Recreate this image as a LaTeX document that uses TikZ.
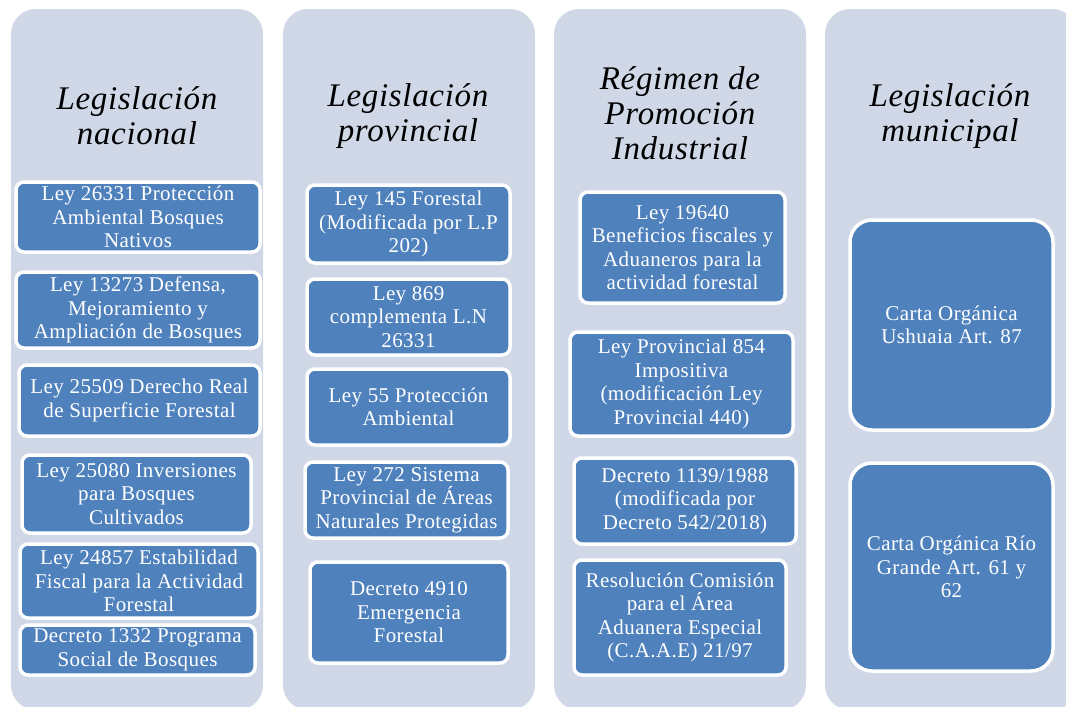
\documentclass[tikz,border=0pt]{standalone}
\usepackage{fontspec}
\setmainfont{Liberation Serif}
\newfontfamily\lawfont[LetterSpace=2]{Liberation Serif}
\newfontfamily\headfont[LetterSpace=2]{Liberation Serif}
\usetikzlibrary{positioning}

\definecolor{panelbg}{RGB}{208,216,232}
\definecolor{lawblue}{RGB}{79,129,189}

\begin{document}
\begin{tikzpicture}[
    x=1pt, y=-1pt,
    panel/.style={rectangle, rounded corners=25pt, fill=panelbg, minimum width=252pt, minimum height=701pt, inner sep=0pt},
    heading/.style={align=center, inner sep=0pt, font=\headfont\itshape\fontsize{33}{35}\selectfont},
    law/.style={rectangle, draw=white, line width=3.5pt, fill=lawblue, rounded corners=8pt, text=white, align=center, inner sep=0pt, font=\lawfont\fontsize{21}{23.5}\selectfont}
]
\useasboundingbox (0,0) rectangle (1066,707);

% Columns
\node[panel] (nacional) at (137,359.5) {};
\node[panel] (provincial) at (409,359.5) {};
\node[panel] (regimen) at (680,359.5) {};
\node[panel] (municipal) at (951,359.5) {};

% Headings
\node[heading] (hnac) at (137,116) {Legislación\\nacional};
\node[heading] (hprov) at (408,116) {Legislación\\provincial};
\node[heading] (hreg) at (680,113.5) {Régimen de\\Promoción\\Industrial};
\node[heading] (hmun) at (950,116) {Legislación\\municipal};

% Legislacion nacional
\node[law, minimum width=244pt, minimum height=70pt] (n1) at (138,217) {Ley 26331 Protección\\Ambiental Bosques\\Nativos};
\node[law, minimum width=244pt, minimum height=76pt] (n2) at (138,310) {Ley 13273 Defensa,\\Mejoramiento y\\Ampliación de Bosques};
\node[law, minimum width=241pt, minimum height=71pt] (n3) at (139.5,400.5) {Ley 25509 Derecho Real\\de Superficie Forestal};
\node[law, minimum width=229pt, minimum height=78pt] (n4) at (136.5,494) {Ley 25080 Inversiones\\para Bosques\\Cultivados};
\node[law, minimum width=238pt, minimum height=74pt] (n5) at (139,581) {Ley 24857 Estabilidad\\Fiscal para la Actividad\\Forestal};
\node[law, minimum width=235pt, minimum height=50pt] (n6) at (137.5,650) {Decreto 1332 Programa\\Social de Bosques};

% Legislacion provincial
\node[law, minimum width=203pt, minimum height=78pt] (p1) at (408.5,224) {Ley 145 Forestal\\(Modificada por L.P\\202)};
\node[law, minimum width=203pt, minimum height=76pt] (p2) at (408.5,317) {Ley 869\\complementa L.N\\26331};
\node[law, minimum width=203pt, minimum height=76pt] (p3) at (408.5,407) {Ley 55 Protección\\Ambiental};
\node[law, minimum width=203pt, minimum height=76pt] (p4) at (406.5,500) {Ley 272 Sistema\\Provincial de Áreas\\Naturales Protegidas};
\node[law, minimum width=198pt, minimum height=101pt] (p5) at (409,612.5) {Decreto 4910\\Emergencia\\Forestal};

% Regimen de Promocion Industrial
\node[law, minimum width=205pt, minimum height=111pt] (r1) at (682.5,247.5) {Ley 19640\\Beneficios fiscales y\\Aduaneros para la\\actividad forestal};
\node[law, minimum width=223pt, minimum height=104pt] (r2) at (681.5,384) {Ley Provincial 854\\Impositiva\\(modificación Ley\\Provincial 440)};
\node[law, minimum width=222pt, minimum height=86pt] (r3) at (685,501) {Decreto 1139/1988\\(modificada por\\Decreto 542/2018)};
\node[law, minimum width=212pt, minimum height=115pt] (r4) at (680,617.5) {Resolución Comisión\\para el Área\\Aduanera Especial\\(C.A.A.E) 21/97};

% Legislacion municipal
\node[law, minimum width=203pt, minimum height=210pt, rounded corners=22pt] (m1) at (951.5,325) {Carta Orgánica\\Ushuaia Art. 87};
\node[law, minimum width=203pt, minimum height=208pt, rounded corners=22pt] (m2) at (951.5,567) {Carta Orgánica Río\\Grande Art. 61 y\\62};

\end{tikzpicture}
\end{document}
